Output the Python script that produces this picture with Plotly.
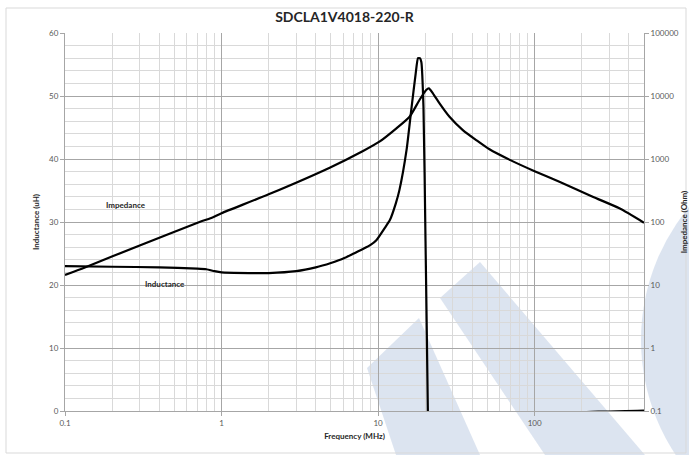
import numpy as np
import plotly.graph_objects as go

# Inductance vs frequency (left axis, uH)
freq_l = [0.1, 0.2, 0.4, 0.7, 0.8, 0.9, 1.0, 1.5, 2, 3, 4, 5, 6, 7, 8, 9, 9.75, 11, 11.9,
          13, 13.7, 15.2, 16.3, 17.4, 18.0, 18.5, 18.9, 19.5, 20.1, 20.8, 21.2, 100, 200, 300, 500]
inductance = [23.0, 22.9, 22.8, 22.6, 22.5, 22.2, 22.0, 21.9, 21.9, 22.2, 22.8, 23.5, 24.2, 25.0,
              25.7, 26.4, 27.1, 29.0, 30.3, 33.0, 35.1, 41.4, 47.8, 53.6, 56.0, 56.0, 55.4, 48.3,
              27.0, 0.0, -20.0, -20.0, -0.4, -0.1, 0.05]

# Impedance vs frequency (right axis, Ohm)
freq_z = [0.1, 0.134, 0.3, 0.73, 0.85, 1.0, 2, 4.91, 8.02, 10.2, 13.1, 15.9, 18.4, 20.3, 21.1,
          22.4, 24.7, 28.6, 34.8, 42.4, 51.5, 70, 100, 144, 235, 348, 500]
impedance = [14.4, 19.0, 42.5, 101, 115, 138, 275, 728, 1340, 1884, 3070, 4690, 8650, 12450,
             13250, 11040, 7650, 4690, 2880, 1995, 1425, 960, 640, 436, 252, 165, 97.5]

x_major = [0.1, 1, 10, 100]
x_minor = [0.2, 0.3, 0.4, 0.5, 0.6, 0.7, 0.8, 0.9, 2, 3, 4, 5, 6, 7, 8, 9,
           20, 30, 40, 50, 60, 70, 80, 90, 200, 300, 400]
z_ticks = [0.1, 1, 10, 100, 1000, 10000, 100000]
z_ticklabels = ["0.1", "1", "10", "100", "1000", "10000", "100000"]

W, H = 689, 455
L, R, T, B = 65, 644, 33, 411

def px(xp, yp):
    """pixel position -> paper coordinates"""
    return (xp - L) / (R - L), (B - yp) / (B - T)

def path(points):
    pts = [px(*p) for p in points]
    return "M " + " L ".join(f"{a:.4f},{b:.4f}" for a, b in pts) + " Z"

tick_font = dict(family="Lato, Carlito, sans-serif", size=8, color="#595959")
title_font = dict(family="Lato, Carlito, sans-serif", size=8, color="#262626")

fig = go.Figure()
fig.add_trace(go.Scatter(x=freq_l, y=inductance, mode="lines",
                         line=dict(color="black", width=2.2, shape="spline", smoothing=0.5),
                         name="Inductance", showlegend=False))
fig.add_trace(go.Scatter(x=freq_z, y=impedance, mode="lines", yaxis="y2",
                         line=dict(color="black", width=2.2, shape="spline", smoothing=0.6),
                         name="Impedance", showlegend=False))

# faint background logo: two slanted bands and a large disc
wm = "rgba(214,223,237,0.85)"
shapes = [
    dict(type="path", path=path([(367, 368), (419, 318), (480, 455), (396, 455)])),
    dict(type="path", path=path([(440, 298), (480, 262), (645, 455), (545, 455)])),
]
for s in shapes:
    s.update(xref="paper", yref="paper", fillcolor=wm, line=dict(width=0), layer="below")
c0 = px(849 - 208, 340 - 208)
c1 = px(849 + 208, 340 + 208)
shapes.append(dict(type="circle", xref="paper", yref="paper", x0=c0[0], x1=c1[0],
                   y0=c1[1], y1=c0[1], fillcolor=wm, line=dict(width=0), layer="below"))
# chart frame
f0 = px(6, 8)
f1 = px(686, 453)
shapes.append(dict(type="rect", xref="paper", yref="paper", x0=f0[0], x1=f1[0],
                   y0=f1[1], y1=f0[1], line=dict(color="#d9d9d9", width=1),
                   fillcolor="rgba(0,0,0,0)", layer="above"))

fig.update_layout(
    width=W, height=H,
    margin=dict(l=L, r=W - R, t=T, b=H - B, autoexpand=False),
    paper_bgcolor="white", plot_bgcolor="rgba(0,0,0,0)",
    title=dict(text="<b>SDCLA1V4018-220-R</b>", x=0.5, xanchor="center", y=1 - 17 / H,
               yanchor="middle", font=dict(family="Lato, Carlito, sans-serif", size=14,
                                           color="#262626")),
    shapes=shapes,
    xaxis=dict(type="log", range=[-1, np.log10(500)], tickvals=x_major,
               ticktext=["0.1", "1", "10", "100"], tickfont=tick_font, automargin=False,
               showgrid=True, gridcolor="#a6a6a6", gridwidth=1,
               minor=dict(tickvals=x_minor, showgrid=True, gridcolor="#d9d9d9", gridwidth=1,
                          ticks=""),
               showline=True, linecolor="#a6a6a6", ticks="outside", ticklen=4,
               tickcolor="#a6a6a6", zeroline=False,
               title=dict(text="<b>Frequency (MHz)</b>", font=title_font, standoff=6)),
    yaxis=dict(range=[0, 60], dtick=10, tickfont=tick_font, showgrid=True, automargin=False,
               gridcolor="#a6a6a6", gridwidth=1,
               minor=dict(dtick=2, showgrid=True, gridcolor="#d9d9d9", gridwidth=1, ticks=""),
               showline=True, linecolor="#a6a6a6", ticks="outside", ticklen=4,
               tickcolor="#a6a6a6", zeroline=False,
               title=dict(text="<b>Inductance (uH)</b>", font=title_font, standoff=8)),
    yaxis2=dict(type="log", range=[-1, 5], overlaying="y", side="right", automargin=False,
                tickvals=z_ticks, ticktext=z_ticklabels, tickfont=tick_font,
                showgrid=False, showline=True, linecolor="#a6a6a6", ticks="outside",
                ticklen=4, tickcolor="#a6a6a6",
                title=dict(text="<b>Impedance (Ohm)</b>", font=title_font, standoff=8)),
    annotations=[
        dict(x=np.log10(0.245), y=32.7, text="<b>Impedance</b>", showarrow=False,
             font=title_font),
        dict(x=np.log10(0.435), y=20.2, text="<b>Inductance</b>", showarrow=False,
             font=title_font),
    ],
)

fig.write_html("out.html")
